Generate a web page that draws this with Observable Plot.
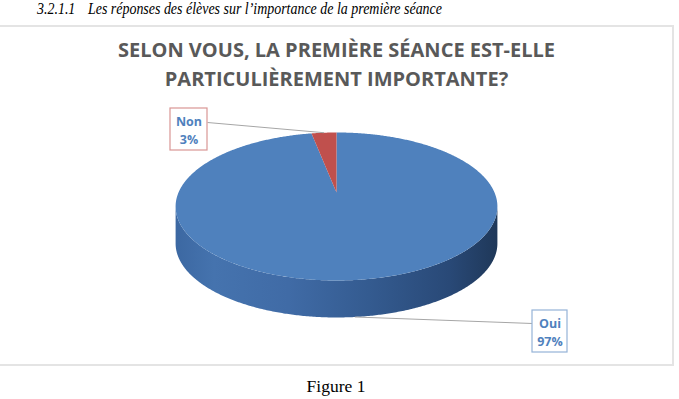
<!DOCTYPE html>
<html><head><meta charset="utf-8">
<script src="https://cdn.jsdelivr.net/npm/d3@7"></script>
<script src="https://cdn.jsdelivr.net/npm/@observablehq/plot@0.6"></script>
<style>
html,body{margin:0;padding:0;background:#fff;}
body{width:679px;height:399px;position:relative;overflow:hidden;}
#head{position:absolute;top:0px;left:0;font:italic 17px "Liberation Serif",serif;line-height:17px;color:#000;white-space:nowrap;z-index:3;}
#head span{position:absolute;top:0;transform-origin:0 0;transform:scaleX(0.82);}
#frame{position:absolute;left:-4px;top:25px;width:678px;height:341px;border:2px solid #e4e4e4;box-sizing:border-box;z-index:2;}
#title{position:absolute;left:0;width:673px;top:36px;text-align:center;font:bold 20px "Open Sans",sans-serif;color:#595959;line-height:28.5px;z-index:3;}
#chart{position:absolute;left:0;top:0;z-index:1;}
#cap{position:absolute;top:376px;left:0;width:672px;text-align:center;font:17.5px "Liberation Serif",serif;line-height:20px;color:#000;z-index:3;}
</style></head>
<body>
<div id="head"><span style="left:37px">3.2.1.1</span><span style="left:88px">Les réponses des élèves sur l’importance de la première séance</span></div>
<div id="frame"></div>
<div id="title">SELON VOUS, LA PREMIÈRE SÉANCE EST-ELLE<br>PARTICULIÈREMENT IMPORTANTE?</div>
<div id="chart"></div>
<div id="cap">Figure 1</div>
<script>
// ---- data ----
const categories = ["Oui", "Non"];
const values = [97, 3];
const sliceColors = ["#4f81bd", "#c0504d"];
const labelBorders = ["#95b3d7", "#d99694"];

// ---- layout ----
const W = 679, H = 399;
const CX = 336, CY = 192;          // projected pie centre (page px)
const RX = 158, A = 71.35, B = 0.189, DEPTH = 37;
const labelBoxes = [ // offsets from pie centre, px
  {x1: 196, x2: 231, y1: 118, y2: 160, ax: 196, ay: 131},
  {x1: -166, x2: -129, y1: -84, y2: -42, ax: -129, ay: -70}
];

function proj(phi) { // phi: clockwise from 12 o'clock
  const u = Math.sin(phi), v = -Math.cos(phi);
  const k = 1 / (1 - B * v);
  return {x: RX * u * k, y: A * v * k};
}

const arcs = d3.pie().sort(null).value(d => d)(values);
const step = Math.PI / 360;

// top face slices
const topPts = [];
arcs.forEach((a, i) => {
  topPts.push({key: categories[i], color: sliceColors[i], x: 0, y: 0});
  for (let t = a.startAngle; t < a.endAngle; t += step) topPts.push({key: categories[i], color: sliceColors[i], ...proj(t)});
  topPts.push({key: categories[i], color: sliceColors[i], ...proj(a.endAngle)});
});

// silhouette extremes
let phiR = 0, phiL = 0, maxX = -Infinity, minX = Infinity;
for (let t = 0; t < 2 * Math.PI; t += step / 4) {
  const p = proj(t);
  if (p.x > maxX) { maxX = p.x; phiR = t; }
  if (p.x < minX) { minX = p.x; phiL = t; }
}
const front = [];
for (let t = phiR; t <= phiL; t += step) front.push(proj(t));
front.push(proj(phiL));
const bandPts = [...front, ...front.slice().reverse().map(p => ({x: p.x, y: p.y + DEPTH}))];

// shadow under the pie
const shadowPts = [];
for (let t = 0; t < 2 * Math.PI; t += step * 4) {
  const p = proj(t);
  shadowPts.push({x: p.x * 1.025, y: p.y * 1.03 + DEPTH + 2});
}
const edgePts = front.map(p => ({x: p.x, y: p.y + 0.8}));

// labels & leaders
const boxes = arcs.map((a, i) => {
  const b = labelBoxes[i];
  const mid = (a.startAngle + a.endAngle) / 2;
  const p = proj(mid);
  const onFront = Math.cos(mid) < 0;
  return {
    ...b, border: labelBorders[i],
    cx: (b.x1 + b.x2) / 2, cy: (b.y1 + b.y2) / 2,
    label: `${categories[i]}\n${Math.round(a.value / d3.sum(values) * 100)}%`,
    px: p.x, py: p.y + (onFront ? DEPTH : 0)
  };
});

const chart = Plot.plot({
  width: W, height: H, margin: 0,
  style: {background: "none", overflow: "visible"},
  x: {domain: [-CX, W - CX], range: [0, W], axis: null},
  y: {domain: [-CY, H - CY], range: [0, H], axis: null},
  color: {type: "identity"},
  marks: [
    Plot.line(shadowPts, {x: "x", y: "y", fill: "#8c8c8c", fillOpacity: 0.5, stroke: "none", curve: "linear-closed", ariaLabel: "shadow"}),
    Plot.line(bandPts, {x: "x", y: "y", fill: "url(#sideGrad)", stroke: "none", curve: "linear-closed"}),
    Plot.line(topPts, {x: "x", y: "y", z: "key", fill: "color", stroke: "none", curve: "linear-closed"}),
    Plot.line(edgePts, {x: "x", y: "y", stroke: "#86acdb", strokeWidth: 1.6, strokeOpacity: 0.85, ariaLabel: "bevel"}),
    Plot.link(boxes, {x1: "px", y1: "py", x2: "ax", y2: "ay", stroke: "#a6a6a6", strokeWidth: 1}),
    Plot.rect(boxes, {x1: "x1", x2: "x2", y1: "y1", y2: "y2", fill: "white", stroke: "border", strokeWidth: 1.2}),
    Plot.text(boxes, {x: "cx", y: "cy", text: "label", fill: "#4f81bd", fontSize: 12.5, fontWeight: "bold", fontFamily: "Open Sans", lineHeight: 1.45})
  ]
});
document.getElementById("chart").appendChild(chart);

const svg = d3.select(chart);
const defs = svg.insert("defs", ":first-child");
const xs = chart.scale("x");
const g = defs.append("linearGradient").attr("id", "sideGrad").attr("gradientUnits", "userSpaceOnUse")
  .attr("x1", xs.apply(minX)).attr("x2", xs.apply(maxX)).attr("y1", 0).attr("y2", 0);
[[0, "#3c68a2"], [0.12, "#4573ae"], [0.35, "#406ba6"], [0.6, "#345b90"], [0.85, "#294977"], [1, "#1f3859"]]
  .forEach(([o, c]) => g.append("stop").attr("offset", o).attr("stop-color", c));
defs.append("filter").attr("id", "blur").attr("x", "-20%").attr("y", "-40%").attr("width", "140%").attr("height", "180%")
  .append("feGaussianBlur").attr("stdDeviation", 4);
defs.append("filter").attr("id", "soft").append("feGaussianBlur").attr("stdDeviation", 0.7);
svg.select('g[aria-label="shadow"]').attr("filter", "url(#blur)");
svg.select('g[aria-label="bevel"]').attr("filter", "url(#soft)");
</script>
</body></html>
